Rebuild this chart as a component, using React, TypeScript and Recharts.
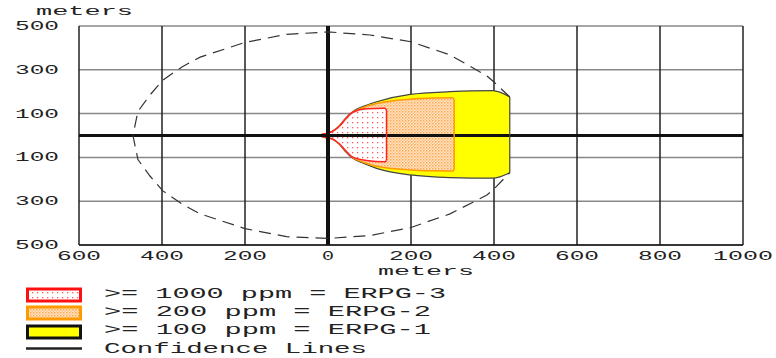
import {
  Area,
  CartesianGrid,
  ComposedChart,
  ReferenceLine,
  Scatter,
  XAxis,
  YAxis,
} from "recharts";

const FONT = '"Liberation Mono", "DejaVu Sans Mono", monospace';

const xTicks = [-600, -400, -200, 0, 200, 400, 600, 800, 1000];
const yTicks = [-500, -300, -100, 0, 100, 300, 500];

// ERPG-1 (>= 100 ppm)
const yellowX = [-16, -8, 0, 8, 16, 28, 42, 60, 85, 117, 198, 294, 397, 438];
const yellowTop = [5, 9, 12, 17, 26, 46, 78, 110, 133, 154, 188, 200, 205, 176];
const yellowBottom = [-5, -9, -12, -15, -23, -42, -73, -104, -127, -150, -180, -192, -195, -170];

// ERPG-2 (>= 200 ppm)
const orangeX = [-15, -8, 0, 8, 16, 28, 42, 60, 85, 117, 198, 260, 300, 304];
const orangeTop = [4, 8, 11, 16, 25, 44, 75, 107, 128, 146, 166, 171, 172, 165];
const orangeBottom = [-4, -8, -11, -14, -22, -40, -70, -101, -122, -140, -157, -161, -162, -155];

// ERPG-3 (>= 1000 ppm)
const redX = [-14, -8, 0, 8, 16, 28, 42, 60, 93, 137, 141];
const redTop = [4, 8, 11, 16, 24, 43, 74, 106, 122, 124, 116];
const redBottom = [-4, -8, -11, -14, -21, -39, -68, -99, -114, -120, -114];

// confidence lines, in drawing order
const confX = [438, 400, 383, 294, 200, 101, 0, -100, -200, -308, -352, -398, -429, -458, -470, -458, -429, -398, -352, -308, -200, -100, 0, 101, 200, 294, 383, 400, 438];
const confY = [176, 244, 272, 368, 428, 459, 473, 462, 425, 358, 313, 253, 185, 110, 0, -110, -185, -253, -313, -358, -425, -462, -470, -457, -420, -358, -272, -244, -170];

const legendLabels = [">= 1000 ppm = ERPG-3", ">= 200 ppm = ERPG-2", ">= 100 ppm = ERPG-1", "Confidence Lines"];

function bandRows(xs: number[], top: number[], bottom: number[]) {
  return xs.map((x, i) => ({ x, band: [bottom[i], top[i]] }));
}

// the downwind end of a zone, closing the band
function endRows(xs: number[], top: number[], bottom: number[]) {
  const n = xs.length - 1;
  return [
    { x: xs[n], y: top[n] },
    { x: xs[n], y: bottom[n] },
  ];
}

const confRows = confX.map((x, i) => ({ x, y: confY[i] }));

// bitmap-ish wide font: stretch the glyphs to the measured width
const charW = (s: string, per: number) => s.length * per - 4;

function YTick(props: any) {
  const { y, payload } = props;
  const s = String(Math.abs(payload.value));
  const w = charW(s, 16);
  return (
    <text x={59 - w} y={y + 4} fontSize={13} fill="#222" fontFamily={FONT} textLength={w} lengthAdjust="spacingAndGlyphs">
      {s}
    </text>
  );
}

function XTick(props: any) {
  const { x, payload } = props;
  const s = String(Math.abs(payload.value));
  const w = charW(s, 16);
  return (
    <text x={x - w / 2} y={260} fontSize={13} fill="#222" fontFamily={FONT} textLength={w} lengthAdjust="spacingAndGlyphs">
      {s}
    </text>
  );
}

function Patterns({ prefix }: { prefix: string }) {
  return (
    <defs>
      <pattern id={`${prefix}red`} width="5" height="5" patternUnits="userSpaceOnUse">
        <rect width="5" height="5" fill="#fff" />
        <rect x="2" y="2" width="1.3" height="1.3" fill="#ff5a5a" />
      </pattern>
      <pattern id={`${prefix}orange`} width="3" height="3" patternUnits="userSpaceOnUse">
        <rect width="3" height="3" fill="#ffe6c8" />
        <rect x="0" y="0" width="1.5" height="1.5" fill="#ffa64d" />
        <rect x="1.5" y="1.5" width="1.5" height="1.5" fill="#ffc48a" />
      </pattern>
    </defs>
  );
}

const noDot = () => <g />;

function Legend() {
  const rows = [
    { y: 289, stroke: "#ff1010", fill: "url(#lgred)" },
    { y: 307, stroke: "#ff9900", fill: "url(#lgorange)" },
    { y: 326, stroke: "#111", fill: "#ffff00" },
  ];
  const widths = [342, 327, 327, 263];
  const base = [298, 316, 334, 353];
  return (
    <svg width={776} height={358} style={{ position: "absolute", left: 0, top: 0, pointerEvents: "none" }}>
      <Patterns prefix="lg" />
      {rows.map((r, i) => (
        <rect key={i} x={27.5} y={r.y} width={53} height={12} fill={r.fill} stroke={r.stroke} strokeWidth={3} />
      ))}
      <line x1={26} x2={82} y1={348.5} y2={348.5} stroke="#222" strokeWidth={2.5} />
      {legendLabels.map((t, i) => (
        <text key={t} x={104} y={base[i]} fontSize={15} fill="#222" fontFamily={FONT} textLength={widths[i]} lengthAdjust="spacingAndGlyphs">
          {t}
        </text>
      ))}
      <text x={36} y={15} fontSize={13} fill="#222" fontFamily={FONT} textLength={97} lengthAdjust="spacingAndGlyphs">
        meters
      </text>
      <text x={378} y={275} fontSize={13} fill="#222" fontFamily={FONT} textLength={96} lengthAdjust="spacingAndGlyphs">
        meters
      </text>
    </svg>
  );
}

export default function App() {
  return (
    <div style={{ position: "absolute", left: 0, top: 0, width: 776, height: 358, background: "#fff" }}>
      <ComposedChart width={776} height={358} margin={{ top: 26, right: 33, bottom: 83, left: 0 }}>
        <Patterns prefix="ch" />
        <XAxis
          dataKey="x"
          type="number"
          domain={[-600, 1000]}
          ticks={xTicks}
          allowDataOverflow
          height={30}
          tick={<XTick />}
          tickLine={false}
          axisLine={{ stroke: "#111", strokeWidth: 1.5 }}
        />
        <YAxis
          type="number"
          domain={[-500, 500]}
          ticks={yTicks}
          allowDataOverflow
          width={79}
          tick={<YTick />}
          tickLine={false}
          axisLine={false}
        />
        <Area
          data={bandRows(yellowX, yellowTop, yellowBottom)}
          dataKey="band"
          type="monotone"
          fill="#ffff00"
          fillOpacity={1}
          stroke="#444"
          strokeWidth={1.2}
          isAnimationActive={false}
        />
        <Scatter data={endRows(yellowX, yellowTop, yellowBottom)} dataKey="y" fill="#444" line={{ stroke: "#444", strokeWidth: 1.2 }} shape={noDot} isAnimationActive={false} />
        <Area
          data={bandRows(orangeX, orangeTop, orangeBottom)}
          dataKey="band"
          type="monotone"
          fill="url(#chorange)"
          fillOpacity={1}
          stroke="#ff9900"
          strokeWidth={1.5}
          isAnimationActive={false}
        />
        <Scatter data={endRows(orangeX, orangeTop, orangeBottom)} dataKey="y" fill="#ff9900" line={{ stroke: "#ff9900", strokeWidth: 1.5 }} shape={noDot} isAnimationActive={false} />
        <Area
          data={bandRows(redX, redTop, redBottom)}
          dataKey="band"
          type="monotone"
          fill="url(#chred)"
          fillOpacity={1}
          stroke="#ff2020"
          strokeWidth={1.5}
          isAnimationActive={false}
        />
        <Scatter data={endRows(redX, redTop, redBottom)} dataKey="y" fill="#ff2020" line={{ stroke: "#ff2020", strokeWidth: 1.5 }} shape={noDot} isAnimationActive={false} />
        <CartesianGrid vertical={false} stroke="#888" strokeWidth={1.5} />
        <CartesianGrid horizontal={false} stroke="#222" strokeWidth={1.5} />
        <ReferenceLine y={0} stroke="#111" strokeWidth={3} />
        <ReferenceLine x={0} stroke="#111" strokeWidth={4} />
        <Scatter
          data={confRows}
          dataKey="y"
          fill="#333"
          line={{ stroke: "#333", strokeWidth: 1.2, strokeDasharray: "12 7" }}
          shape={noDot}
          isAnimationActive={false}
        />
      </ComposedChart>
      <Legend />
    </div>
  );
}
